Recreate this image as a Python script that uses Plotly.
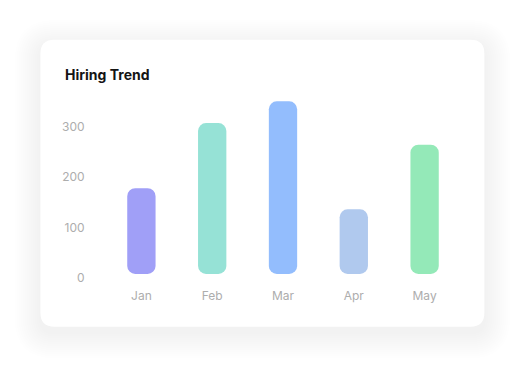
import plotly.graph_objects as go

months = ["Jan", "Feb", "Mar", "Apr", "May"]
hires = [178, 307, 350, 136, 264]
bar_colors = ["#a09ff7", "#96e2d6", "#93bdfd", "#b0c9ee", "#94e9b8"]
y_ticks = [0, 100, 200, 300]
title_text = "Hiring Trend"
bar_gap = 8  # small visual gap between the zero line and the bar bottoms

OFF = 8  # page body margin
W, H = 524 - OFF, 368 - OFF
L, R = 105.6 - OFF, 459.6 - OFF
T, B = 92.2 - OFF, 278.3 - OFF
PW, PH = R - L, B - T


def px(x):
    return (x - OFF - L) / PW


def py(y):
    return (B - (y - OFF)) / PH


def rrect(x0, y0, x1, y1, r):
    pts = []
    pts.append(f"M {px(x0 + r)},{py(y0)}")
    pts.append(f"L {px(x1 - r)},{py(y0)}")
    pts.append(f"Q {px(x1)},{py(y0)} {px(x1)},{py(y0 + r)}")
    pts.append(f"L {px(x1)},{py(y1 - r)}")
    pts.append(f"Q {px(x1)},{py(y1)} {px(x1 - r)},{py(y1)}")
    pts.append(f"L {px(x0 + r)},{py(y1)}")
    pts.append(f"Q {px(x0)},{py(y1)} {px(x0)},{py(y1 - r)}")
    pts.append(f"L {px(x0)},{py(y0 + r)}")
    pts.append(f"Q {px(x0)},{py(y0)} {px(x0 + r)},{py(y0)}")
    pts.append("Z")
    return " ".join(pts)


shapes = []
# soft shadow
for i in range(26, 0, -2):
    shapes.append(dict(type="path", xref="paper", yref="paper",
                       path=rrect(40 - i, 40 - i + 6, 484 + i, 327 + i + 6, 14 + i),
                       fillcolor="rgba(0,0,0,0.005)", line=dict(width=0), layer="below"))
shapes.append(dict(type="path", xref="paper", yref="paper",
                   path=rrect(40, 40, 484, 327, 14),
                   fillcolor="#ffffff", line=dict(width=0), layer="below"))

fig = go.Figure()
fig.add_trace(go.Bar(x=months, y=[v - bar_gap for v in hires], base=[bar_gap] * len(hires),
                     marker=dict(color=bar_colors, cornerradius=8, line=dict(width=0)),
                     width=0.4, hoverinfo="skip"))

fig.update_layout(
    width=W, height=H,
    margin=dict(l=L, r=W - R, t=T, b=H - B, pad=0),
    paper_bgcolor="#ffffff", plot_bgcolor="rgba(0,0,0,0)",
    showlegend=False,
    shapes=shapes,
    font=dict(family="Inter", color="#adadad", size=12),
    annotations=[dict(text=f"<b>{title_text}</b>", xref="paper", yref="paper",
                      x=px(62.5), y=py(75), xanchor="left", yanchor="middle",
                      showarrow=False, font=dict(family="Inter", size=14, color="#141414"))],
)
fig.update_xaxes(showgrid=False, zeroline=False, showline=False,
                 ticks="outside", ticklen=7, tickcolor="rgba(0,0,0,0)",
                 tickfont=dict(size=12, color="#adadad"))
fig.update_yaxes(range=[0, PH / 0.505], tickvals=y_ticks, showgrid=False, zeroline=False, showline=False,
                 ticks="outside", ticklen=18, tickcolor="rgba(0,0,0,0)",
                 tickfont=dict(size=12, color="#adadad"))

fig.write_html("out.html")
